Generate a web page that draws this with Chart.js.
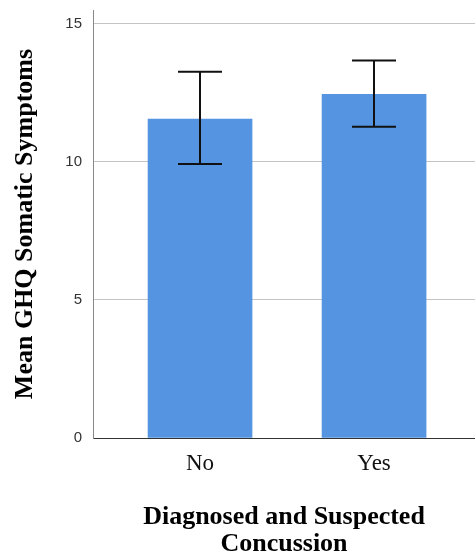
<!DOCTYPE html>
<html>
<head>
<meta charset="utf-8">
<script src="https://cdn.jsdelivr.net/npm/chart.js@4.4.0/dist/chart.umd.min.js"></script>
<style>
  html, body { margin: 0; padding: 0; background: #fff; }
  #wrap { width: 475px; height: 559px; }
</style>
</head>
<body>
<div id="wrap"><canvas id="js--chart"></canvas></div>
<script>
const categories = ['No', 'Yes'];
const means = [11.55, 12.45];
const ciLow = [9.92, 11.27];
const ciHigh = [13.26, 13.67];
const yTicks = [0, 5, 10, 15];

// error bars drawn on top of the bars, using the chart's own scales
const errorBars = {
  id: 'errorBars',
  afterDatasetsDraw(chart) {
    const ctx = chart.ctx;
    const xs = chart.scales.x;
    const ys = chart.scales.y;
    ctx.save();
    ctx.strokeStyle = '#111';
    ctx.lineWidth = 2;
    for (let i = 0; i < means.length; i++) {
      const px = Math.round(xs.getPixelForValue(i));
      const top = ys.getPixelForValue(ciHigh[i]);
      const bottom = ys.getPixelForValue(ciLow[i]);
      ctx.beginPath();
      ctx.moveTo(px, top);
      ctx.lineTo(px, bottom);
      ctx.moveTo(px - 22, top);
      ctx.lineTo(px + 22, top);
      ctx.moveTo(px - 22, bottom);
      ctx.lineTo(px + 22, bottom);
      ctx.stroke();
    }
    ctx.restore();
  }
};

const data = {
  datasets: [{
    label: 'Mean GHQ Somatic Symptoms',
    data: means.map(function(v, i){ return {x: i, y: v}; }),
    backgroundColor: '#5594e1',
    borderWidth: 0,
    barThickness: 104
  }]
};

const config = {
  type: 'bar',
  data: data,
  options: {
    responsive: true,
    maintainAspectRatio: false,
    animation: false,
    layout: { padding: { top: 10, left: 0, right: 0, bottom: 0 } },
    plugins: {
      legend: { display: false },
      tooltip: { enabled: false }
    },
    scales: {
      x: {
        type: 'linear',
        offset: false,
        min: -0.615,
        max: 1.58,
        afterBuildTicks: function(scale){
          scale.ticks = categories.map(function(c, i){ return {value: i}; });
        },
        afterFit: function(scale){
          scale.height = 121;
          scale.paddingLeft = 0;
          scale.paddingRight = 0;
        },
        grid: { display: false, drawTicks: false },
        border: { display: true, color: '#333', width: 1 },
        ticks: {
          padding: 12,
          color: '#111',
          font: { family: 'Liberation Serif', size: 23 },
          callback: function(value){ return categories[value]; }
        },
        title: {
          display: true,
          text: ['Diagnosed and Suspected', 'Concussion'],
          color: '#000',
          font: { family: 'Liberation Serif', size: 26, weight: 'bold', lineHeight: 1.04 },
          padding: { top: 0, bottom: 1 }
        }
      },
      y: {
        min: 0,
        max: 15.5,
        afterBuildTicks: function(scale){
          scale.ticks = yTicks.map(function(v){ return {value: v}; });
        },
        afterFit: function(scale){
          scale.width = 93;
          scale.paddingTop = 0;
          scale.paddingBottom = 0;
        },
        grid: { color: '#c4c4c4', lineWidth: 1, drawTicks: false },
        border: { display: true, color: '#888', width: 1 },
        ticks: {
          padding: 11,
          color: '#333',
          font: { family: 'Liberation Sans', size: 15 }
        },
        title: {
          display: true,
          text: 'Mean GHQ Somatic Symptoms',
          color: '#000',
          font: { family: 'Liberation Serif', size: 26, weight: 'bold' },
          padding: { top: 10, bottom: 0 }
        }
      }
    }
  },
  plugins: [errorBars]
};

const chart1 = new Chart(document.getElementById('js--chart'), config);
</script>
</body>
</html>
